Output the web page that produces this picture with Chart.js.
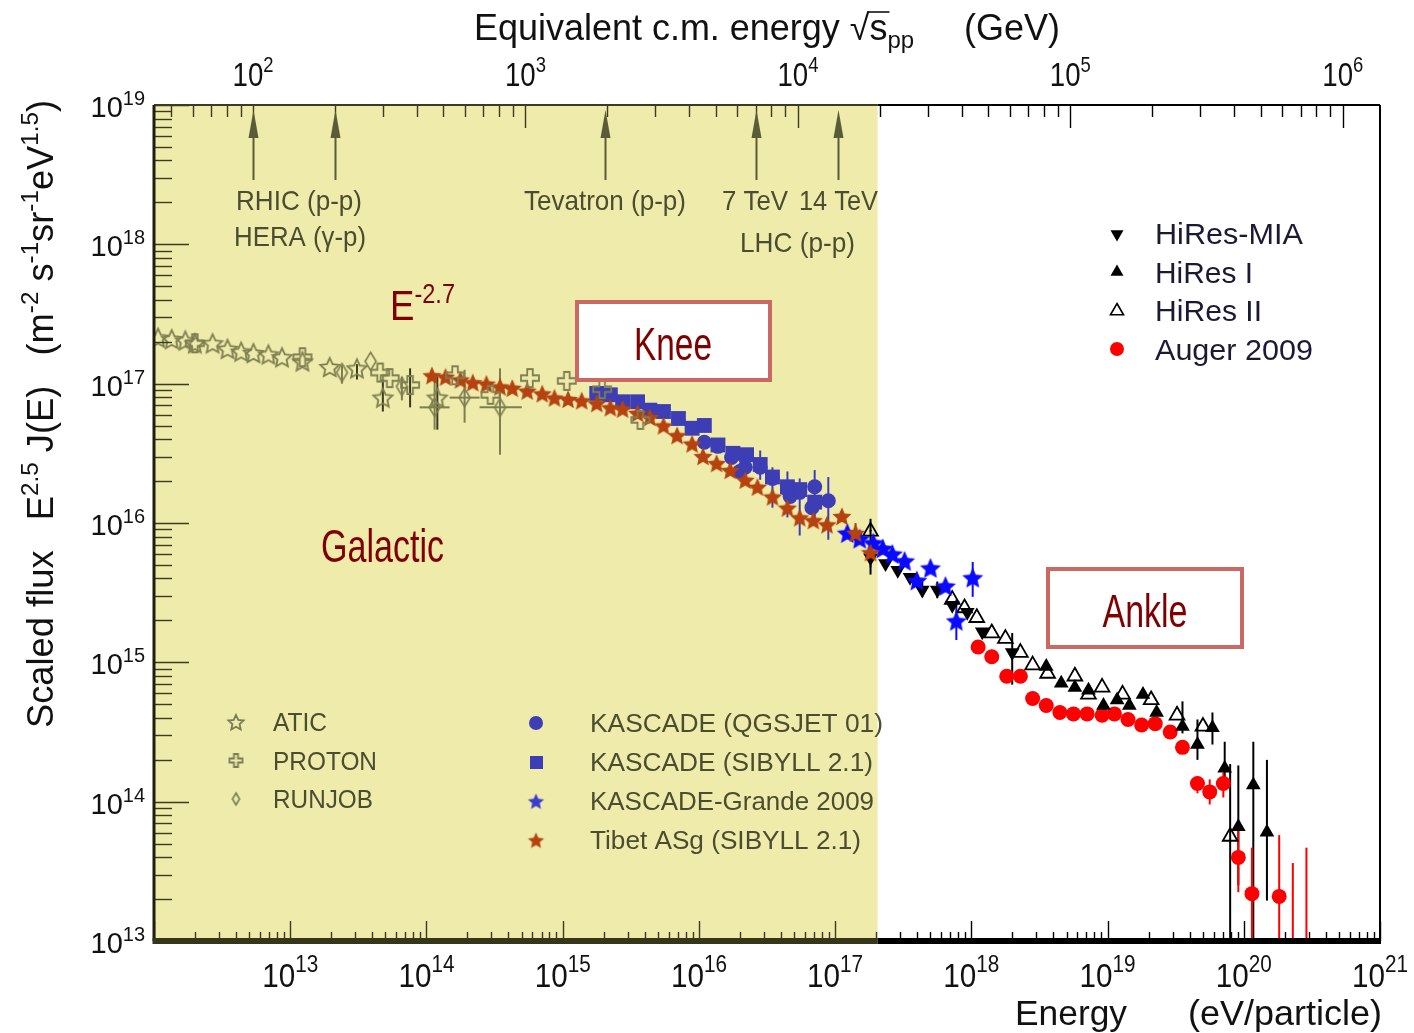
<!DOCTYPE html>
<html>
<head>
<meta charset="utf-8">
<script src="https://cdn.jsdelivr.net/npm/chart.js@4.4.1/dist/chart.umd.min.js"></script>
<style>
  html, body { margin: 0; padding: 0; background: #fff; }
  canvas { display: block; }
</style>
</head>
<body>
<canvas id="chart" width="1414" height="1033"></canvas>
<script>
// values are log10(E / eV) and log10(E^2.5 J(E))
const aticLogE = [12.03, 12.13, 12.23, 12.30, 12.43, 12.54, 12.64, 12.73, 12.84, 12.94, 13.09, 13.29, 13.49, 13.68, 14.08];
const aticLogF = [17.33, 17.32, 17.31, 17.29, 17.29, 17.25, 17.23, 17.22, 17.21, 17.19, 17.16, 17.12, 17.11, 16.90, 16.90];
const aticErr = [[13.49, 17.03, 17.14], [13.68, 16.80, 17.03], [14.08, 16.67, 17.05]];

const protonLogE = [12.30, 13.09, 13.66, 13.73, 13.88, 14.21, 14.47, 14.76, 15.03, 15.29, 15.57];
const protonLogF = [17.29, 17.19, 17.08, 17.04, 16.99, 17.06, 16.92, 17.04, 17.02, 16.96, 16.74];
const protonErr = [[13.88, 16.83, 17.11]];

const runjobLogE = [13.38, 13.59, 13.82, 14.06, 14.28, 14.54];
const runjobLogF = [17.08, 17.16, 16.98, 16.83, 16.90, 16.83];
const runjobErr = [[13.38, 17.00, 17.13], [13.82, 16.88, 17.05], [14.06, 16.67, 17.04], [14.28, 16.72, 17.10], [14.54, 16.49, 17.11]];
const runjobXErr = [[16.83, 13.95, 14.17], [16.90, 14.17, 14.39], [16.83, 14.39, 14.70]];

const tibetLogE = [14.04, 14.14, 14.25, 14.34, 14.44, 14.54, 14.63, 14.74, 14.85, 14.94, 15.04, 15.14, 15.25, 15.35, 15.44, 15.55, 15.64,
  15.74, 15.84, 15.95, 16.03, 16.13, 16.23, 16.34, 16.43, 16.54, 16.65, 16.74, 16.84, 16.94, 17.05, 17.15, 17.26];
const tibetLogF = [17.06, 17.05, 17.03, 17.01, 17.00, 16.98, 16.97, 16.95, 16.93, 16.90, 16.89, 16.88, 16.86, 16.83, 16.82, 16.79, 16.76,
  16.70, 16.63, 16.57, 16.48, 16.43, 16.38, 16.31, 16.26, 16.19, 16.11, 16.04, 16.02, 15.99, 16.05, 15.93, 15.79];
const tibetErr = [[17.15, 15.83, 16.00], [17.26, 15.68, 15.86]];

const kascSibLogE = [15.25, 15.35, 15.44, 15.55, 15.64, 15.74, 15.85, 15.95, 16.04, 16.14, 16.25, 16.35, 16.45, 16.54, 16.65, 16.74, 16.85];
const kascSibLogF = [16.93, 16.92, 16.87, 16.87, 16.81, 16.80, 16.75, 16.68, 16.70, 16.56, 16.50, 16.49, 16.42, 16.33, 16.26, 16.24, 16.15];
const kascSibErr = [[16.45, 16.31, 16.52], [16.54, 16.11, 16.40]];

const kascQgsLogE = [16.04, 16.14, 16.24, 16.30, 16.34, 16.45, 16.54, 16.65, 16.67, 16.74, 16.83, 16.85, 16.95];
const kascQgsLogF = [16.58, 16.55, 16.47, 16.37, 16.40, 16.40, 16.32, 16.24, 16.19, 16.22, 16.11, 16.26, 16.16];
const kascQgsErr = [[16.65, 16.04, 16.37], [16.74, 15.91, 16.32], [16.85, 16.00, 16.38], [16.95, 15.88, 16.33]];

const grandeLogE = [17.09, 17.18, 17.28, 17.35, 17.42, 17.51, 17.60, 17.70, 17.81, 17.89, 18.01];
const grandeLogF = [15.93, 15.89, 15.86, 15.82, 15.78, 15.73, 15.59, 15.68, 15.55, 15.30, 15.61];
const grandeErr = [[17.89, 15.16, 15.45], [18.01, 15.47, 15.72]];

const miaLogE = [17.26, 17.37, 17.46, 17.55, 17.64, 17.75, 17.86, 17.97, 18.08, 18.30];
const miaLogF = [15.75, 15.71, 15.66, 15.61, 15.52, 15.52, 15.41, 15.36, 15.22, 15.07];
const miaErr = [[17.26, 15.63, 15.95], [17.64, 15.47, 15.58], [17.75, 15.46, 15.58], [18.30, 14.84, 15.21]];

const hires1LogE = [18.55, 18.66, 18.76, 18.86, 18.97, 19.07, 19.16, 19.26, 19.36, 19.55, 19.66, 19.77, 19.86, 19.96, 20.07, 20.17];
const hires1LogF = [14.97, 14.85, 14.82, 14.80, 14.69, 14.73, 14.69, 14.77, 14.64, 14.54, 14.41, 14.53, 14.24, 13.82, 14.12, 13.78];
const hires1Err = [[19.55, 14.49, 14.72], [19.66, 14.30, 14.59], [19.77, 14.41, 14.64], [19.86, 14.15, 14.43],
  [19.96, 13.40, 14.26], [20.07, 12.90, 14.43], [20.17, 13.29, 14.30]];

const hires2LogE = [17.26, 17.86, 17.95, 18.04, 18.15, 18.25, 18.36, 18.45, 18.56, 18.76, 18.86, 18.96, 19.11, 19.32, 19.51, 19.70, 19.90];
const hires2LogF = [15.94, 15.45, 15.39, 15.32, 15.21, 15.17, 15.07, 14.98, 14.92, 14.90, 14.77, 14.82, 14.77, 14.73, 14.62, 14.54, 13.75];
const hires2Err = [[17.26, 15.94, 16.03], [19.90, 12.90, 14.27]];

const augerLogE = [18.05, 18.15, 18.26, 18.36, 18.45, 18.55, 18.65, 18.75, 18.85, 18.96, 19.05, 19.15, 19.25, 19.35, 19.46, 19.55,
  19.66, 19.75, 19.85, 19.96, 20.06, 20.26];
const augerLogF = [15.11, 15.04, 14.90, 14.90, 14.74, 14.69, 14.64, 14.63, 14.63, 14.62, 14.63, 14.59, 14.55, 14.56, 14.50, 14.39,
  14.13, 14.07, 14.13, 13.60, 13.34, 13.32];
// last two entries are upper limits drawn as bars only
const augerErr = [[19.66, 14.06, 14.18], [19.75, 13.98, 14.16], [19.85, 14.03, 14.21], [19.96, 13.35, 13.82],
  [20.06, 12.90, 13.67], [20.26, 12.90, 13.76], [20.36, 12.90, 13.56], [20.46, 12.90, 13.67]];

// colliders, sqrt(s) in GeV
const colliderSqrtS = [100, 200, 1960, 7000, 14000];

const xMin = 1e12, xMax = 1e21, yMin = 1e13, yMax = 1e19;
const galacticMaxE = 2.05e17;
const protonMassGeV = 0.938;

const FAM = '"Liberation Sans", Arial, sans-serif';
const YELLOW = '#eeebab';
const OLIVE_MARK = '#7e7e50';
const OLIVE_DARK = '#3b3b20';
const OLIVE_TEXT = '#4c4c32';
const TIBET = '#b5420f';
const KASC = '#3d3db5';
const GRANDE = '#0a0aff';
const AUGER = '#ff0000';
const DARKRED = '#7f0000';

const sqrtSToE = s => s * s / (2 * protonMassGeV) * 1e9;

function pts(le, lf) {
  return le.map((e, i) => ({ x: 10 ** e, y: 10 ** lf[i] }));
}

function makeSprite(w, h, draw) {
  const c = document.createElement('canvas');
  c.width = w; c.height = h;
  draw(c.getContext('2d'), w / 2, h / 2);
  return c;
}
function starPath(g, cx, cy, ro, ri) {
  g.beginPath();
  for (let i = 0; i < 10; i++) {
    const a = -Math.PI / 2 + i * Math.PI / 5, r = i % 2 ? ri : ro;
    g.lineTo(cx + r * Math.cos(a), cy + r * Math.sin(a));
  }
  g.closePath();
}
function filledStar(size, color) {
  return makeSprite(size + 2, size + 2, (g, cx, cy) => {
    starPath(g, cx, cy + size * 0.06, size / 2, size / 4.3);
    g.fillStyle = color; g.fill();
  });
}
function openStar(size, color) {
  return makeSprite(size + 4, size + 4, (g, cx, cy) => {
    starPath(g, cx, cy + 1, size / 2, size / 4.2);
    g.strokeStyle = color; g.lineWidth = 1.8; g.stroke();
  });
}
function openPlus(size, color) {
  return makeSprite(size + 4, size + 4, (g, cx, cy) => {
    const L = size / 2, a = size / 6.5;
    const p = [[-a, -L], [a, -L], [a, -a], [L, -a], [L, a], [a, a], [a, L], [-a, L], [-a, a], [-L, a], [-L, -a], [-a, -a]];
    g.beginPath();
    p.forEach(q => g.lineTo(cx + q[0], cy + q[1]));
    g.closePath();
    g.strokeStyle = color; g.lineWidth = 1.8; g.stroke();
  });
}
function openDiamond(w, h, color) {
  return makeSprite(w + 4, h + 4, (g, cx, cy) => {
    g.beginPath();
    g.moveTo(cx, cy - h / 2); g.lineTo(cx + w / 2, cy); g.lineTo(cx, cy + h / 2); g.lineTo(cx - w / 2, cy);
    g.closePath();
    g.strokeStyle = color; g.lineWidth = 1.6; g.stroke();
  });
}

function rich(ctx, runs, x, y, opt) {
  const o = Object.assign({ align: 'left', color: '#000', rot: 0, width: null }, opt);
  ctx.save();
  ctx.translate(x, y);
  if (o.rot) ctx.rotate(o.rot);
  const ws = runs.map(r => { ctx.font = `${r.s}px ${FAM}`; return ctx.measureText(r.t).width; });
  const total = ws.reduce((p, q) => p + q, 0);
  const sx = o.width ? o.width / total : 1;
  const off = o.align === 'center' ? -total / 2 : o.align === 'right' ? -total : 0;
  ctx.scale(sx, 1);
  ctx.fillStyle = o.color;
  ctx.textAlign = 'left';
  ctx.textBaseline = 'alphabetic';
  let cx = off;
  const starts = [];
  runs.forEach((r, i) => {
    ctx.font = `${r.s}px ${FAM}`;
    starts.push(cx * sx);
    ctx.fillText(r.t, cx, r.dy || 0);
    cx += ws[i];
  });
  ctx.restore();
  return { starts, widths: ws.map(w => w * sx) };
}

function line(ctx, x1, y1, x2, y2, color, w) {
  ctx.strokeStyle = color; ctx.lineWidth = w;
  ctx.beginPath(); ctx.moveTo(x1, y1); ctx.lineTo(x2, y2); ctx.stroke();
}

function tri(ctx, x, y, r, up, filled) {
  const d = up ? 1 : -1;
  ctx.beginPath();
  ctx.moveTo(x, y - d * r);
  ctx.lineTo(x + r * 0.87, y + d * r * 0.5);
  ctx.lineTo(x - r * 0.87, y + d * r * 0.5);
  ctx.closePath();
  if (filled) { ctx.fillStyle = '#000'; ctx.fill(); }
  else { ctx.strokeStyle = '#000'; ctx.lineWidth = 1.6; ctx.stroke(); }
}

const errorBars = {
  id: 'errorBars',
  beforeDatasetsDraw(chart) {
    const { ctx, chartArea: a, scales: { x, y } } = chart;
    ctx.save();
    ctx.beginPath();
    ctx.rect(a.left, a.top, a.right - a.left, a.bottom - a.top);
    ctx.clip();
    chart.data.datasets.forEach(ds => {
      ctx.strokeStyle = ds.barColor || '#000';
      ctx.lineWidth = 2;
      (ds.errs || []).forEach(b => {
        const px = x.getPixelForValue(10 ** b[0]);
        ctx.beginPath();
        ctx.moveTo(px, y.getPixelForValue(10 ** b[1]));
        ctx.lineTo(px, y.getPixelForValue(10 ** b[2]));
        ctx.stroke();
      });
      (ds.xerrs || []).forEach(b => {
        const py = y.getPixelForValue(10 ** b[0]);
        ctx.beginPath();
        ctx.moveTo(x.getPixelForValue(10 ** b[1]), py);
        ctx.lineTo(x.getPixelForValue(10 ** b[2]), py);
        ctx.stroke();
      });
    });
    ctx.restore();
  }
};

const frame = {
  id: 'frame',
  beforeDraw(chart) {
    const { ctx, chartArea: a, scales: { x } } = chart;
    ctx.save();
    ctx.fillStyle = '#fff';
    ctx.fillRect(0, 0, chart.width, chart.height);
    const xr = x.getPixelForValue(galacticMaxE);
    ctx.fillStyle = YELLOW;
    ctx.fillRect(a.left, a.top, xr - a.left, a.bottom - a.top);
    ctx.restore();
  },
  afterDraw(chart) {
    const { ctx, chartArea: a, scales: { x, y } } = chart;
    const xr = x.getPixelForValue(galacticMaxE);
    const col = px => (px <= xr ? OLIVE_DARK : '#000');
    ctx.save();

    // bottom ticks
    for (let k = 12; k <= 21; k++) {
      for (let m = 1; m <= 9; m++) {
        const v = m * 10 ** k;
        if (v < xMin * 0.999 || v > xMax * 1.001) continue;
        const px = Math.round(x.getPixelForValue(v)) + 0.5;
        line(ctx, px, a.bottom, px, a.bottom - (m === 1 ? 20 : 9), col(px), 1.4);
      }
    }
    // top ticks, sqrt(s) scale
    for (let k = 1; k <= 6; k++) {
      for (let m = 1; m <= 9; m++) {
        const v = sqrtSToE(m * 10 ** k);
        if (v < xMin || v > xMax) continue;
        const px = Math.round(x.getPixelForValue(v)) + 0.5;
        line(ctx, px, a.top, px, a.top + (m === 1 ? 23 : 12), col(px), 1.4);
      }
    }
    // left ticks
    for (let k = 13; k <= 19; k++) {
      for (let m = 1; m <= 9; m++) {
        const v = m * 10 ** k;
        if (v > yMax * 1.001) continue;
        const py = Math.round(y.getPixelForValue(v)) + 0.5;
        line(ctx, a.left, py, a.left + (m === 1 ? 35 : 18), py, OLIVE_DARK, 1.4);
      }
    }

    // frame
    line(ctx, a.left, a.top, xr, a.top, OLIVE_DARK, 2);
    line(ctx, xr, a.top, a.right, a.top, '#000', 2);
    line(ctx, a.right, a.top, a.right, a.bottom, '#000', 2);
    line(ctx, a.left, a.top, a.left, a.bottom, '#1f1f10', 3);
    line(ctx, a.left - 1.5, a.bottom, xr, a.bottom, '#36361b', 6);
    line(ctx, xr, a.bottom, a.right + 1, a.bottom, '#000', 6);

    // tick labels
    for (let k = 13; k <= 19; k++) {
      const py = y.getPixelForValue(10 ** k);
      rich(ctx, [{ t: '10', s: 29 }, { t: String(k), s: 20, dy: -12 }], 145, py + 12, { align: 'right', color: '#111' });
    }
    for (let k = 13; k <= 21; k++) {
      const px = x.getPixelForValue(10 ** k);
      rich(ctx, [{ t: '10', s: 33 }, { t: String(k), s: 23, dy: -15 }], px, 987, { align: 'center', width: 56, color: '#111' });
    }
    for (let k = 2; k <= 6; k++) {
      const px = x.getPixelForValue(sqrtSToE(10 ** k));
      rich(ctx, [{ t: '10', s: 33 }, { t: String(k), s: 22, dy: -14 }], px, 86, { align: 'center', width: 41, color: '#111' });
    }

    // axis titles
    const top = rich(ctx, [{ t: 'Equivalent c.m. energy ', s: 36 }, { t: '\u221A', s: 36 }, { t: 's', s: 36 },
      { t: 'pp', s: 24, dy: 8 }, { t: '     (GeV)', s: 36 }], 474, 40, { width: 586, color: '#111' });
    line(ctx, 474 + top.starts[2] - 2, 12, 474 + top.starts[2] + top.widths[2] + 2, 12, '#111', 1.6);
    rich(ctx, [{ t: 'Energy', s: 35 }], 1015, 1025, { width: 112, color: '#111' });
    rich(ctx, [{ t: '(eV/particle)', s: 35 }], 1188, 1025, { width: 194, color: '#111' });
    rich(ctx, [{ t: 'Scaled flux', s: 36 }, { t: '   E', s: 36 }, { t: '2.5', s: 24, dy: -15 }, { t: ' J(E)   (m', s: 36 },
      { t: '-2', s: 24, dy: -15 }, { t: ' s', s: 36 }, { t: '-1', s: 24, dy: -15 }, { t: 'sr', s: 36 },
      { t: '-1', s: 24, dy: -15 }, { t: 'eV', s: 36 }, { t: '1.5', s: 24, dy: -15 }, { t: ')', s: 36 }],
      53, 728, { rot: -Math.PI / 2, width: 628, color: '#111' });

    // collider arrows
    colliderSqrtS.forEach(s => {
      const px = Math.round(x.getPixelForValue(sqrtSToE(s))) + 0.5;
      line(ctx, px, 180, px, 132, '#5b5b38', 2);
      ctx.fillStyle = '#5b5b38';
      ctx.beginPath();
      ctx.moveTo(px, 110); ctx.lineTo(px + 5, 138); ctx.lineTo(px - 5, 138); ctx.closePath();
      ctx.fill();
    });
    const lab = (t, x0, yb, w) => rich(ctx, [{ t, s: 28 }], x0, yb, { width: w, color: OLIVE_TEXT });
    lab('RHIC (p-p)', 236, 210, 126);
    lab('HERA (\u03B3-p)', 234, 246, 132);
    lab('Tevatron (p-p)', 524, 210, 162);
    lab('7 TeV', 722, 210, 66);
    lab('14 TeV', 799, 210, 79);
    lab('LHC (p-p)', 740, 252, 115);

    // legends
    const legL = [['ATIC', openStar(16, '#7a7a55'), 54], ['PROTON', openPlus(13, '#7a7a55'), 104], ['RUNJOB', openDiamond(7, 12, '#7a7a55'), 100]];
    legL.forEach((it, i) => {
      const yy = 722 + i * 38.5;
      ctx.drawImage(it[1], 236 - it[1].width / 2, yy - it[1].height / 2);
      rich(ctx, [{ t: it[0], s: 25 }], 273, yy + 9, { width: it[2], color: OLIVE_TEXT });
    });
    const legK = [['KASCADE (QGSJET 01)', 293], ['KASCADE (SIBYLL 2.1)', 283], ['KASCADE-Grande 2009', 284], ['Tibet ASg (SIBYLL 2.1)', 271]];
    legK.forEach((it, i) => {
      const yy = 723 + i * 39;
      rich(ctx, [{ t: it[0], s: 26 }], 590, yy + 9, { width: it[1], color: OLIVE_TEXT });
    });
    ctx.fillStyle = KASC;
    ctx.beginPath(); ctx.arc(536, 723, 7, 0, Math.PI * 2); ctx.fill();
    ctx.fillRect(530, 756, 13, 13);
    const ks = filledStar(17, '#3d3dcc'), ts = filledStar(17, TIBET);
    ctx.drawImage(ks, 536 - ks.width / 2, 801 - ks.height / 2);
    ctx.drawImage(ts, 536 - ts.width / 2, 840 - ts.height / 2);

    const legH = [['HiRes-MIA', 148], ['HiRes I', 98], ['HiRes II', 107], ['Auger 2009', 158]];
    legH.forEach((it, i) => {
      const yy = 233 + i * 38.7;
      rich(ctx, [{ t: it[0], s: 30 }], 1155, yy + 11, { width: it[1], color: '#1a1a33' });
    });
    tri(ctx, 1117, 234, 7.5, false, true);
    tri(ctx, 1117, 272, 7.5, true, true);
    tri(ctx, 1117, 311, 7.5, true, false);
    ctx.fillStyle = AUGER;
    ctx.beginPath(); ctx.arc(1117, 349, 7, 0, Math.PI * 2); ctx.fill();

    // annotations
    ctx.fillStyle = '#fff';
    ctx.fillRect(577, 302, 193, 78);
    ctx.fillRect(1048, 569, 194, 78);
    ctx.strokeStyle = '#cc6864';
    ctx.lineWidth = 4;
    ctx.strokeRect(577, 302, 193, 78);
    ctx.strokeRect(1048, 569, 194, 78);
    rich(ctx, [{ t: 'Knee', s: 46 }], 673, 360, { align: 'center', width: 78, color: DARKRED });
    rich(ctx, [{ t: 'Ankle', s: 46 }], 1145, 627, { align: 'center', width: 85, color: DARKRED });
    rich(ctx, [{ t: 'Galactic', s: 46 }], 321, 562, { width: 123, color: DARKRED });
    rich(ctx, [{ t: 'E', s: 42 }, { t: '-2.7', s: 27, dy: -17 }], 390, 320, { width: 65, color: DARKRED });

    ctx.restore();
  }
};

const datasets = [
  { label: 'ATIC', data: pts(aticLogE, aticLogF), pointStyle: openStar(20, OLIVE_MARK), pointRadius: 9, errs: aticErr, barColor: '#3a3a22' },
  { label: 'PROTON', data: pts(protonLogE, protonLogF), pointStyle: openPlus(18, OLIVE_MARK), pointRadius: 9, errs: protonErr, barColor: '#3a3a22' },
  { label: 'RUNJOB', data: pts(runjobLogE, runjobLogF), pointStyle: openDiamond(11, 18, OLIVE_MARK), pointRadius: 9, errs: runjobErr, xerrs: runjobXErr, barColor: OLIVE_MARK },
  { label: 'Tibet ASg (SIBYLL 2.1)', data: pts(tibetLogE, tibetLogF), pointStyle: filledStar(20, TIBET), pointRadius: 9, errs: tibetErr, barColor: TIBET },
  { label: 'KASCADE (SIBYLL 2.1)', data: pts(kascSibLogE, kascSibLogF), pointStyle: 'rect', pointRadius: 10.5, backgroundColor: KASC, borderWidth: 0, errs: kascSibErr, barColor: KASC },
  { label: 'KASCADE (QGSJET 01)', data: pts(kascQgsLogE, kascQgsLogF), pointStyle: 'circle', pointRadius: 7.5, backgroundColor: KASC, borderWidth: 0, errs: kascQgsErr, barColor: KASC },
  { label: 'KASCADE-Grande 2009', data: pts(grandeLogE, grandeLogF), pointStyle: filledStar(22, GRANDE), pointRadius: 10, errs: grandeErr, barColor: GRANDE },
  { label: 'HiRes II', data: pts(hires2LogE, hires2LogF), pointStyle: 'triangle', pointRadius: 8.5, backgroundColor: 'rgba(255,255,255,0)', borderColor: '#000', borderWidth: 1.8, errs: hires2Err, barColor: '#000' },
  { label: 'HiRes-MIA', data: pts(miaLogE, miaLogF), pointStyle: 'triangle', rotation: 180, pointRadius: 8.5, backgroundColor: '#000', borderWidth: 0, errs: miaErr, barColor: '#000' },
  { label: 'HiRes I', data: pts(hires1LogE, hires1LogF), pointStyle: 'triangle', pointRadius: 8.5, backgroundColor: '#000', borderWidth: 0, errs: hires1Err, barColor: '#000' },
  { label: 'Auger 2009', data: pts(augerLogE, augerLogF), pointStyle: 'circle', pointRadius: 7.5, backgroundColor: AUGER, borderWidth: 0, errs: augerErr, barColor: AUGER }
];

new Chart(document.getElementById('chart'), {
  type: 'scatter',
  data: { datasets },
  options: {
    responsive: false,
    animation: false,
    devicePixelRatio: 1,
    events: [],
    layout: { padding: { left: 154, right: 34, top: 105, bottom: 92 } },
    plugins: { legend: { display: false }, tooltip: { enabled: false } },
    scales: {
      x: { type: 'logarithmic', min: xMin, max: xMax, display: false },
      y: { type: 'logarithmic', min: yMin, max: yMax, display: false }
    }
  },
  plugins: [frame, errorBars]
});
</script>
</body>
</html>
